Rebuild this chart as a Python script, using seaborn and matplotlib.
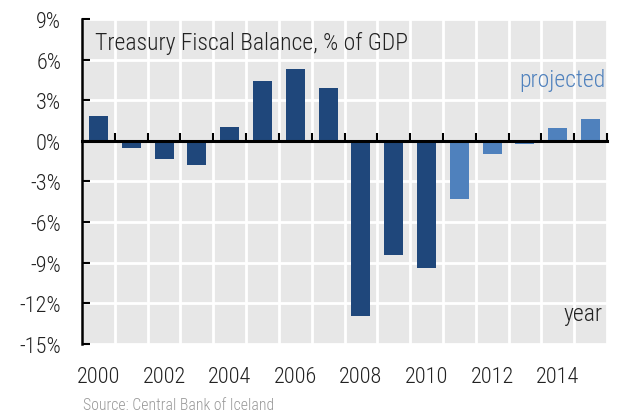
import matplotlib
matplotlib.use("Agg")
import matplotlib.pyplot as plt
import seaborn as sns
import pandas as pd
import numpy as np

# data
years = [2000, 2001, 2002, 2003, 2004, 2005, 2006, 2007,
         2008, 2009, 2010, 2011, 2012, 2013, 2014, 2015]
balance = [1.8, -0.5, -1.35, -1.8, 1.0, 4.4, 5.3, 3.9,
           -12.9, -8.4, -9.4, -4.3, -1.0, -0.25, 0.95, 1.6]
status = ["actual"] * 11 + ["projected"] * 5
y_ticks = [9, 6, 3, 0, -3, -6, -9, -12, -15]
y_labels = ["9%", "6%", "3%", "0%", "-3%", "-6%", "-9%", "-12%", "-15%"]
x_labels = ["2000", "2002", "2004", "2006", "2008", "2010", "2012", "2014"]

df = pd.DataFrame({"year": years, "balance": balance, "status": status})

sns.set_style("white")
plt.rcParams["font.family"] = ["Roboto Condensed", "Roboto", "DejaVu Sans"]
plt.rcParams["font.weight"] = "light"

fig = plt.figure(figsize=(6.18, 4.14), dpi=100)
ax = fig.add_axes([0.1327, 0.1667, 0.8495, 0.785])
ax.set_facecolor("#e7e7e7")

sns.barplot(data=df, x="year", y="balance", hue="status",
            palette={"actual": "#1f477b", "projected": "#4f81bd"},
            saturation=1, dodge=False, width=0.58, legend=False,
            linewidth=0, ax=ax, zorder=3)

ax.set_xlim(-0.5, 15.5)
ax.set_ylim(-15, 9)
ax.set_yticks(y_ticks)
ax.set_yticklabels(y_labels, fontsize=16, color="#222222")
ax.tick_params(axis="y", left=True, direction="in", length=6, width=1.5,
               color="black", pad=15)

# boundary ticks sit on the zero line; minor ticks carry the vertical grid
ax.set_xticks([])
ax.set_xticks(np.arange(0.5, 16, 1), minor=True)
ax.tick_params(axis="x", which="minor", bottom=True, direction="in", length=6,
               width=1.5, color="black", labelbottom=False)

ax.grid(True, which="major", axis="y", color="white", linewidth=2, zorder=0)
ax.grid(True, which="minor", axis="x", color="white", linewidth=2, zorder=0)
ax.set_axisbelow(True)

for s in ["top", "right"]:
    ax.spines[s].set_visible(False)
ax.spines["left"].set_linewidth(1.8)
ax.spines["left"].set_color("black")
ax.spines["bottom"].set_position(("data", 0))
ax.spines["bottom"].set_linewidth(2.2)
ax.spines["bottom"].set_color("black")
ax.spines["bottom"].set_zorder(4)

# year labels along the bottom edge
lab = ax.secondary_xaxis("bottom")
lab.spines["bottom"].set_visible(False)
lab.set_xticks(np.arange(0, 16, 2))
lab.set_xticklabels(x_labels, fontsize=16, color="#222222")
lab.tick_params(axis="x", length=0, pad=16)

ax.set_xlabel("")
ax.set_ylabel("")

ax.text(0.025, 0.929, "Treasury Fiscal Balance, % of GDP", transform=ax.transAxes,
        fontsize=17, color="#222222", va="center", ha="left")
ax.text(0.998, 0.815, "projected", transform=ax.transAxes,
        fontsize=17, color="#4f81bd", va="center", ha="right")
ax.text(0.992, 0.095, "year", transform=ax.transAxes,
        fontsize=17, color="#222222", va="center", ha="right")
fig.text(0.134, 0.02, "Source: Central Bank of Iceland", fontsize=11.3,
         color="#999999", ha="left", va="center")

fig.savefig("out.png", dpi=100)
